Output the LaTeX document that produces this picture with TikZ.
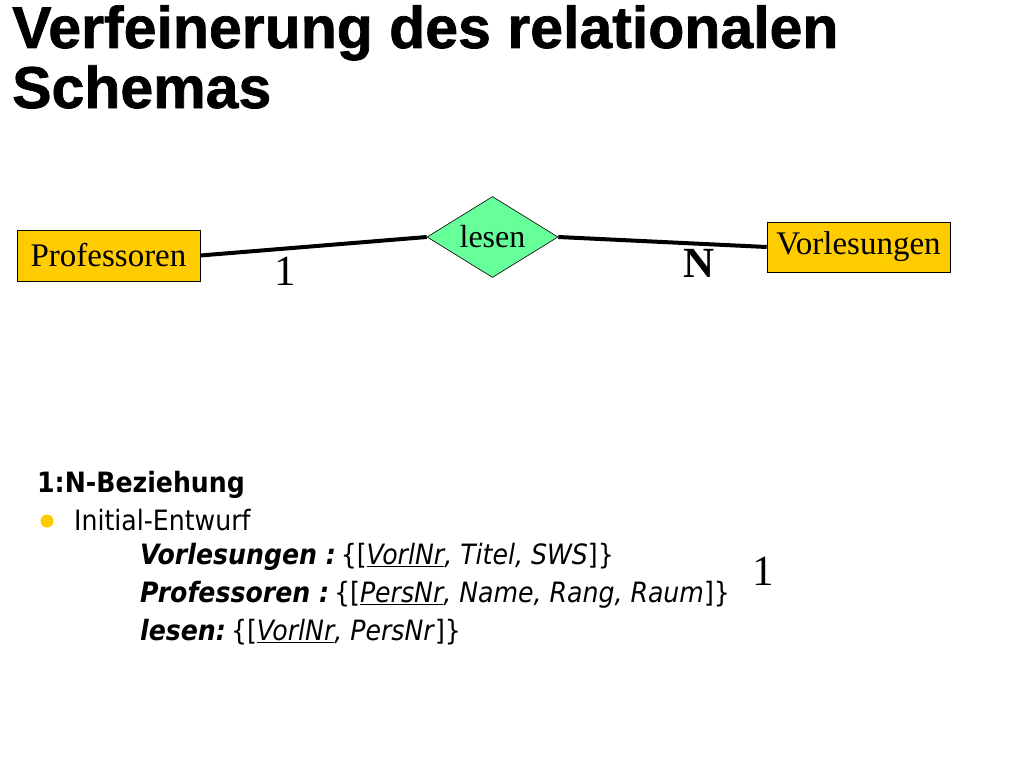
\documentclass[tikz,border=0pt]{standalone}
\usepackage{fontspec}
\setmainfont{Liberation Serif}
\newfontfamily\titlefont[FakeBold=1.2]{Liberation Sans Bold}
\newfontfamily\tah{DejaVu Sans Condensed}
\usetikzlibrary{shapes.geometric}
\definecolor{gold}{HTML}{FFCC00}
\definecolor{mint}{HTML}{66FF99}
\begin{document}
\begin{tikzpicture}[x=1pt,y=-1pt,
  entity/.style={draw=black, line width=0.6pt, fill=gold, minimum width=183pt, minimum height=51pt, inner sep=0pt, font=\fontsize{33}{36}\selectfont},
  rel/.style={diamond, draw=black, line width=0.6pt, fill=mint, minimum width=131pt, minimum height=81pt, aspect=1.6, inner sep=0pt, font=\fontsize{32}{34}\selectfont},
  conn/.style={line width=4pt, black},
  card/.style={inner sep=0pt, font=\fontsize{43}{46}\selectfont},
  heading/.style={anchor=base west, inner sep=0pt, font=\titlefont\fontsize{59}{62}\selectfont},
  body/.style={anchor=base west, inner sep=0pt, font=\tah\fontsize{28}{32}\selectfont}]
\useasboundingbox (0,0) rectangle (1024,768);
\fill[white] (0,0) rectangle (1024,768);
% title
\node[heading] (t1) at (12,48) {Verfeinerung des relationalen};
\node[heading] (t2) at (12,108) {Schemas};
% ER diagram
\node[entity] (prof) at (108.5,255.5) {Professoren};
\node[entity, minimum height=50pt] (vorl) at (858.5,247) {Vorlesungen};
\node[rel] (lesen) at (492.5,237) {lesen};
\draw[conn] (prof.east) -- (lesen.west);
\draw[conn] (lesen.east) -- (vorl.west);
\node[card] (c1) at (285,271) {1};
\node[card, font=\bfseries\fontsize{43}{46}\selectfont] (cn) at (699,263) {N};
\node[card] (c2) at (763,571) {1};
% text block
\node[body, font=\tah\bfseries\fontsize{28}{32}\selectfont] (h) at (37,492) {1:N-Beziehung};
\fill[gold] (47,521) circle (6.5pt);
\node[body] (ie) at (74,530) {Initial-Entwurf};
\node[body] (s1) at (140,564) {\textbf{\textit{Vorlesungen :}}\kern5pt\{[\textit{\underline{VorlNr}, Titel, SWS}]\}};
\node[body] (s2) at (140,602) {\textbf{\textit{Professoren :}}\kern5pt\{[\textit{\underline{PersNr}, Name, Rang, Raum}]\}};
\node[body] (s3) at (140,640) {\textbf{\textit{lesen:}}\kern5pt\{[\textit{\underline{VorlNr}, PersNr}]\}};
\end{tikzpicture}
\end{document}
